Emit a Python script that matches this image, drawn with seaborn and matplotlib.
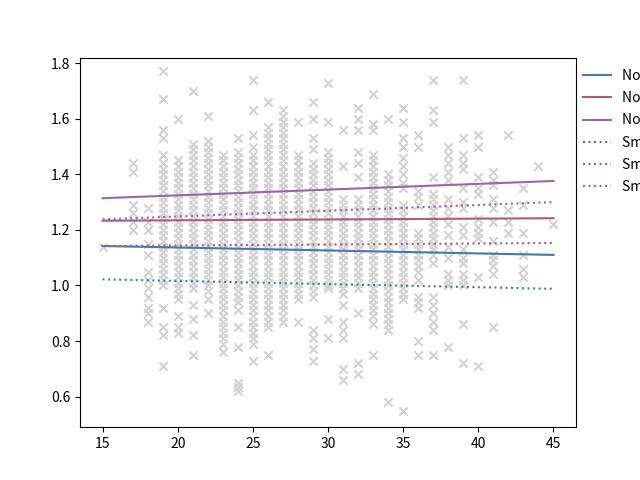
import numpy as np
import pandas as pd
import matplotlib
matplotlib.use("Agg")
import matplotlib.pyplot as plt
import seaborn as sns

# scatter values read per age column
col_15 = [1.14]
col_17 = [1.44, 1.41, 1.29, 1.26, 1.23, 1.20]
col_18 = [1.28, 1.23, 1.20, 1.15, 1.11, 1.05, 1.02, 0.99, 0.96, 0.92, 0.90, 0.87]
col_19 = [1.77, 1.67, 1.56, 1.53, 1.47, 1.44, 1.42, 1.40, 1.38, 1.36, 1.34, 1.32,
          1.30, 1.28, 1.26, 1.24, 1.22, 1.20, 1.18, 1.16, 1.14, 1.12, 1.10, 1.08,
          1.06, 1.04, 1.02, 1.00, 0.92, 0.85, 0.82, 0.71]
col_20 = [1.60, 1.45, 1.43, 1.41, 1.39, 1.37, 1.35, 1.33, 1.31, 1.29, 1.27, 1.25,
          1.23, 1.21, 1.19, 1.17, 1.15, 1.13, 1.11, 1.09, 1.07, 1.05, 1.03, 1.01,
          0.99, 0.97, 0.95, 0.89, 0.85, 0.83]
col_21 = [1.70, 1.51, 1.49, 1.47, 1.45, 1.43, 1.41, 1.39, 1.37, 1.35, 1.33, 1.31,
          1.29, 1.27, 1.25, 1.23, 1.21, 1.19, 1.17, 1.15, 1.13, 1.11, 1.09, 1.07,
          1.05, 1.03, 1.01, 0.99, 0.93, 0.88, 0.82, 0.75]
col_22 = [1.61, 1.52, 1.50, 1.48, 1.46, 1.44, 1.42, 1.40, 1.38, 1.36, 1.34, 1.32,
          1.30, 1.28, 1.26, 1.24, 1.22, 1.20, 1.18, 1.16, 1.14, 1.12, 1.10, 1.08,
          1.06, 1.04, 1.02, 1.00, 0.98, 0.95, 0.90]
col_23 = [1.47, 1.45, 1.43, 1.41, 1.39, 1.37, 1.35, 1.33, 1.31, 1.29, 1.27, 1.25,
          1.23, 1.21, 1.19, 1.17, 1.15, 1.13, 1.11, 1.09, 1.07, 1.05, 1.03, 1.01,
          0.99, 0.97, 0.95, 0.93, 0.91, 0.89, 0.87, 0.85, 0.83, 0.81, 0.79, 0.76]
col_24 = [1.53, 1.48, 1.46, 1.44, 1.42, 1.40, 1.38, 1.36, 1.34, 1.32, 1.30, 1.28,
          1.26, 1.24, 1.22, 1.20, 1.18, 1.16, 1.14, 1.12, 1.10, 1.08, 1.06, 1.04,
          1.02, 1.00, 0.98, 0.96, 0.94, 0.91, 0.85, 0.78, 0.65, 0.635, 0.62]
col_25 = [1.74, 1.63, 1.54, 1.50, 1.47, 1.45, 1.43, 1.41, 1.39, 1.37, 1.35, 1.33,
          1.31, 1.29, 1.27, 1.25, 1.23, 1.21, 1.19, 1.17, 1.15, 1.13, 1.11, 1.09,
          1.07, 1.05, 1.03, 1.01, 0.99, 0.97, 0.95, 0.93, 0.91, 0.89, 0.87, 0.85,
          0.83, 0.81, 0.79, 0.73]
col_26 = [1.66, 1.57, 1.55, 1.53, 1.51, 1.49, 1.47, 1.45, 1.43, 1.41, 1.39, 1.37,
          1.35, 1.33, 1.31, 1.29, 1.27, 1.25, 1.23, 1.21, 1.19, 1.17, 1.15, 1.13,
          1.11, 1.09, 1.07, 1.05, 1.03, 1.01, 0.99, 0.97, 0.95, 0.93, 0.91, 0.89,
          0.87, 0.85, 0.75]
col_27 = [1.63, 1.61, 1.59, 1.57, 1.55, 1.53, 1.51, 1.49, 1.47, 1.45, 1.43, 1.41,
          1.39, 1.37, 1.35, 1.33, 1.31, 1.29, 1.27, 1.25, 1.23, 1.21, 1.19, 1.17,
          1.15, 1.13, 1.11, 1.09, 1.07, 1.05, 1.03, 1.01, 0.99, 0.97, 0.95, 0.93,
          0.91, 0.89, 0.87]
col_28 = [1.59, 1.47, 1.45, 1.43, 1.41, 1.39, 1.37, 1.35, 1.33, 1.31, 1.29, 1.27,
          1.25, 1.23, 1.21, 1.19, 1.17, 1.15, 1.13, 1.11, 1.09, 1.07, 1.05, 1.03,
          1.01, 0.99, 0.97, 0.95, 0.87]
col_29 = [1.66, 1.60, 1.53, 1.49, 1.44, 1.42, 1.40, 1.38, 1.36, 1.34, 1.32, 1.30,
          1.28, 1.26, 1.24, 1.22, 1.20, 1.18, 1.16, 1.14, 1.12, 1.10, 1.08, 1.06,
          1.04, 1.02, 1.00, 0.98, 0.96, 0.84, 0.81, 0.77, 0.73]
col_30 = [1.73, 1.59, 1.48, 1.46, 1.44, 1.42, 1.40, 1.38, 1.36, 1.34, 1.32, 1.30,
          1.28, 1.26, 1.24, 1.22, 1.20, 1.18, 1.16, 1.14, 1.12, 1.10, 1.08, 1.06,
          1.04, 1.02, 1.00, 0.99, 0.88, 0.81]
col_31 = [1.56, 1.43, 1.31, 1.29, 1.27, 1.25, 1.23, 1.21, 1.19, 1.17, 1.15, 1.13,
          1.11, 1.09, 1.07, 1.05, 1.03, 1.01, 0.99, 0.97, 0.93, 0.87, 0.84, 0.81,
          0.70, 0.66]
col_32 = [1.64, 1.60, 1.56, 1.48, 1.44, 1.39, 1.31, 1.29, 1.27, 1.25, 1.23, 1.21,
          1.19, 1.17, 1.15, 1.13, 1.11, 1.09, 1.07, 1.05, 1.03, 1.01, 0.99, 0.90,
          0.72, 0.68]
col_33 = [1.69, 1.58, 1.56, 1.47, 1.45, 1.43, 1.41, 1.39, 1.37, 1.35, 1.33, 1.31,
          1.29, 1.27, 1.25, 1.23, 1.21, 1.19, 1.17, 1.15, 1.13, 1.11, 1.09, 1.07,
          1.05, 1.03, 1.01, 0.99, 0.97, 0.95, 0.93, 0.91, 0.89, 0.86, 0.75]
col_34 = [1.60, 1.40, 1.38, 1.36, 1.34, 1.32, 1.30, 1.28, 1.26, 1.24, 1.22, 1.20,
          1.18, 1.16, 1.14, 1.12, 1.10, 1.08, 1.06, 1.04, 1.02, 1.00, 0.98, 0.96,
          0.94, 0.92, 0.90, 0.88, 0.86, 0.84, 0.58]
col_35 = [1.64, 1.59, 1.53, 1.50, 1.46, 1.43, 1.40, 1.37, 1.35, 1.29, 1.27, 1.25,
          1.23, 1.21, 1.19, 1.17, 1.15, 1.13, 1.11, 1.09, 1.07, 1.05, 1.03, 1.01,
          0.99, 0.97, 0.95, 0.55]
col_36 = [1.54, 1.50, 1.34, 1.32, 1.29, 1.19, 1.17, 1.15, 1.13, 1.11, 1.09, 1.07,
          1.05, 1.02, 0.96, 0.94, 0.92, 0.80, 0.75]
col_37 = [1.74, 1.63, 1.59, 1.39, 1.33, 1.31, 1.29, 1.27, 1.25, 1.23, 1.21, 1.19,
          1.17, 1.15, 1.13, 1.11, 1.08, 0.96, 0.93, 0.90, 0.87, 0.84, 0.75]
col_38 = [1.50, 1.47, 1.44, 1.41, 1.38, 1.31, 1.28, 1.25, 1.22, 1.18, 1.14, 1.10,
          1.04, 1.02, 1.00, 0.78]
col_39 = [1.74, 1.53, 1.47, 1.44, 1.42, 1.35, 1.30, 1.28, 1.21, 1.18, 1.13, 1.10,
          1.08, 1.04, 1.02, 1.00, 0.86, 0.72]
col_40 = [1.54, 1.50, 1.39, 1.35, 1.33, 1.24, 1.21, 1.19, 1.17, 1.03, 0.71]
col_41 = [1.41, 1.38, 1.36, 1.31, 1.28, 1.23, 1.16, 1.11, 1.09, 1.07, 1.04, 0.85]
col_42 = [1.54, 1.27, 1.23, 1.19]
col_43 = [1.35, 1.29, 1.19, 1.11, 1.06, 1.03]
col_44 = [1.43]
col_45 = [1.22]

ages = [15, 17, 18, 19, 20, 21, 22, 23, 24, 25, 26, 27, 28, 29, 30,
        31, 32, 33, 34, 35, 36, 37, 38, 39, 40, 41, 42, 43, 44, 45]
columns = [col_15, col_17, col_18, col_19, col_20, col_21, col_22, col_23,
           col_24, col_25, col_26, col_27, col_28, col_29, col_30, col_31,
           col_32, col_33, col_34, col_35, col_36, col_37, col_38, col_39,
           col_40, col_41, col_42, col_43, col_44, col_45]

# fitted lines, value at age 15 and at age 45
line_x = [15, 45]
non_smoker_1 = [1.142, 1.110]
non_smoker_2 = [1.233, 1.242]
non_smoker_3 = [1.314, 1.376]
smoker_1 = [1.022, 0.988]
smoker_2 = [1.142, 1.153]
smoker_3 = [1.238, 1.300]

labels = ["Non-smoker, group 1", "Non-smoker, group 2", "Non-smoker, group 3",
          "Smoker, group 1", "Smoker, group 2", "Smoker, group 3"]
colors = ["#4a76b0", "#b05c78", "#9667a9"]

pts = pd.DataFrame({
    "age": np.repeat(ages, [len(c) for c in columns]),
    "value": np.concatenate(columns),
})

plt.rcParams["font.family"] = ["Noto Sans CJK SC", "DejaVu Sans"]
fig, ax = plt.subplots(figsize=(6.4, 4.8), dpi=100)

sns.scatterplot(data=pts, x="age", y="value", marker="x", color="lightgrey",
                s=36, linewidth=1.5, ax=ax, legend=False, zorder=1)

lines = [non_smoker_1, non_smoker_2, non_smoker_3, smoker_1, smoker_2, smoker_3]
for i, (vals, lab) in enumerate(zip(lines, labels)):
    ls = "-" if i < 3 else ":"
    sns.lineplot(x=line_x, y=vals, color=colors[i % 3], linestyle=ls,
                 linewidth=1.5, label=lab, ax=ax, zorder=2)

ax.set_xlabel("")
ax.set_ylabel("")
ax.set_xticks([15, 20, 25, 30, 35, 40, 45])
ax.set_yticks([0.6, 0.8, 1.0, 1.2, 1.4, 1.6, 1.8])
ax.set_xlim(13.5, 46.5)
ax.set_ylim(0.49, 1.82)
ax.legend(loc="upper left", bbox_to_anchor=(1.003, 0.984), borderaxespad=0,
          labelspacing=0.59, frameon=False)

fig.savefig("out.png", dpi=100)
